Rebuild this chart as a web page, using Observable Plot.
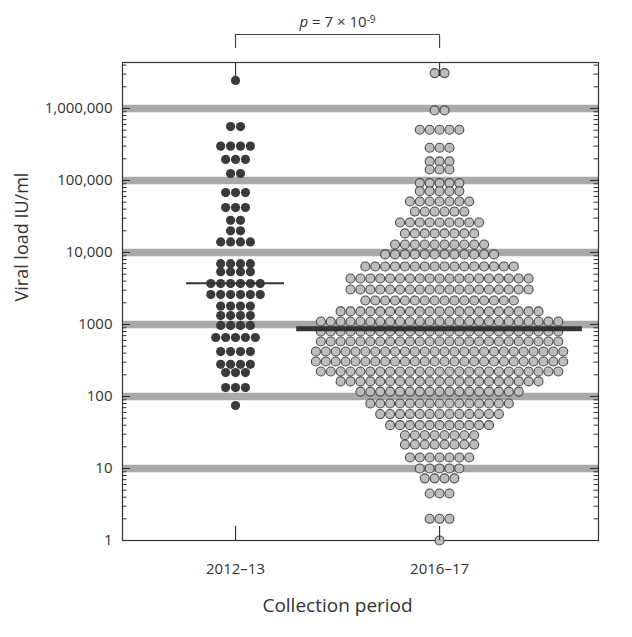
<!DOCTYPE html>
<html><head><meta charset="utf-8">
<script src="https://cdn.jsdelivr.net/npm/d3@7"></script>
<script src="https://cdn.jsdelivr.net/npm/@observablehq/plot@0.6"></script>
<style>body{margin:0;background:#fff;} svg{font-family:"Open Sans",sans-serif;}</style>
</head><body><div id="chart"></div>
<script>
// ---- data ----
const groups = ["2012–13", "2016–17"];
const loads2012 = [2450000, 560000, 300000, 196000, 125000, 68000, 42000, 28000, 20000, 14000,
  7000, 5400, 3700, 2600, 1800, 1330, 970, 660, 420, 280, 215, 133, 75];
const counts2012 = [1, 2, 4, 3, 2, 3, 3, 2, 2, 4, 4, 4, 6, 6, 4, 4, 4, 5, 4, 4, 3, 3, 1];
const loads2016 = [3100000, 940000, 506000, 285000, 184000, 142000, 92000, 71000, 51000, 37000,
  26100, 18400, 12900, 9400, 6400, 4350, 3060, 2150, 1520, 1100, 800, 580, 422, 306, 222, 162,
  117, 80, 57, 40, 29, 21.5, 14.2, 10, 7.3, 4.5, 2.0, 1];
const counts2016 = [2, 2, 5, 3, 3, 3, 5, 5, 7, 6, 9, 8, 10, 12, 16, 19, 19, 16, 21, 25, 25, 25,
  26, 26, 25, 21, 17, 15, 13, 11, 8, 8, 7, 5, 4, 3, 3, 1];
const medians = [3750, 870];
const yTicks = [1, 10, 100, 1000, 10000, 100000, 1000000];
const yTickLabels = ["1", "10", "100", "1000", "10,000", "100,000", "1,000,000"];
const pLabel = ["p", " = 7 × 10", "-9"];
const xTitle = "Collection period";
const yTitle = "Viral load IU/ml";

// ---- layout helpers ----
const yMax = 4.35e6;
const xLo = -0.554, xHi = 1.779;
const spacing = 0.0485;
const decade = 72; // px per decade (for small pixel-like offsets in log units)
const up = px => 10 ** (px / decade);

function expand(loads, counts, g) {
  const out = [];
  loads.forEach((v, r) => {
    const n = counts[r];
    for (let i = 0; i < n; i++) out.push({ group: g, x: g + (i - (n - 1) / 2) * spacing, y: v });
  });
  return out;
}
const pts0 = expand(loads2012, counts2012, 0);
const pts1 = expand(loads2016, counts2016, 1);

const minor = [];
for (let e = 0; e <= 6; e++) for (let k = 2; k <= 9; k++) { const v = k * 10 ** e; if (v < yMax) minor.push(v); }
const labelMap = new Map(yTicks.map((t, i) => [t, yTickLabels[i]]));

const medianRules = [
  { x1: 0 - 0.24, x2: 0 + 0.24, y: medians[0], w: 2 },
  { x1: 1 - 0.70, x2: 1 + 0.70, y: medians[1], w: 5 }
];
const bracket = [
  { x: 0, y: yMax * up(15) }, { x: 0, y: yMax * up(28) },
  { x: 1, y: yMax * up(28) }, { x: 1, y: yMax * up(15) }
];

const plot = Plot.plot({
  width: 632, height: 637,
  marginLeft: 122, marginRight: 34, marginTop: 62, marginBottom: 97,
  x: { type: "linear", domain: [xLo, xHi], axis: null },
  y: { type: "log", domain: [1, yMax], axis: null },
  style: { fontFamily: "Open Sans, sans-serif", color: "#333", background: "#fff", overflow: "visible" },
  marks: [
    Plot.ruleY(yTicks.slice(1), { stroke: "#a9a9a9", strokeWidth: 7.5 }),
    Plot.ruleY(minor, { x1: xHi - 0.022, x2: xHi, stroke: "#333", strokeWidth: 1 }),
    Plot.ruleY(yTicks, { x1: xHi - 0.04, x2: xHi, stroke: "#333", strokeWidth: 1 }),
    Plot.ruleY(minor, { x1: xLo, x2: xLo + 0.022, stroke: "#333", strokeWidth: 1 }),
    Plot.ruleY(yTicks, { x1: xLo, x2: xLo + 0.04, stroke: "#333", strokeWidth: 1 }),
    Plot.frame({ stroke: "#333", strokeWidth: 1.2 }),
    Plot.dot(pts0, { x: "x", y: "y", r: 4.6, fill: "#3a3a3a", stroke: "none" }),
    Plot.dot(pts1, { x: "x", y: "y", r: 4.5, fill: "#bdbdbd", stroke: "#4a4a4a", strokeWidth: 1.1 }),
    Plot.ruleX([0, 1], { y1: 1, y2: up(14), stroke: "#333", strokeWidth: 1.2 }),
    Plot.ruleX([0, 1], { y1: yMax, y2: yMax / up(14), stroke: "#333", strokeWidth: 1.2 }),
    Plot.ruleY(medianRules, { x1: "x1", x2: "x2", y: "y", strokeWidth: "w", stroke: "#333" }),
    Plot.line(bracket, { x: "x", y: "y", stroke: "#444", strokeWidth: 1.2 }),
    Plot.axisY({ ticks: yTicks, tickFormat: d => labelMap.get(d), tickSize: 0, tickPadding: 10, fontSize: 15, label: null }),
    Plot.axisX({ ticks: [0, 1], tickFormat: i => groups[i], tickSize: 0, tickPadding: 23, fontSize: 15, label: null }),
    Plot.text([{ x: 0.5, t: xTitle }], { x: "x", text: "t", frameAnchor: "bottom", dy: 71, fontSize: 19, fill: "#333" }),
    Plot.text([yTitle], { frameAnchor: "left", dx: -100, rotate: -90, fontSize: 18, fill: "#333" }),
    Plot.text([{ x: 0.5, t: pLabel.join("") }], { x: "x", text: "t", frameAnchor: "top", dy: -46, fontSize: 15, fill: "#333", className: "pval" })
  ]
});
document.getElementById("chart").append(plot);

// rich styling of the p-value label (italic p, superscript exponent)
const pt = d3.select(plot).select(".pval text");
pt.text(null);
pt.append("tspan").attr("font-style", "italic").text(pLabel[0]);
pt.append("tspan").text(pLabel[1]);
pt.append("tspan").attr("dy", "-0.45em").attr("font-size", "10px").text(pLabel[2]);
</script>
</body></html>
